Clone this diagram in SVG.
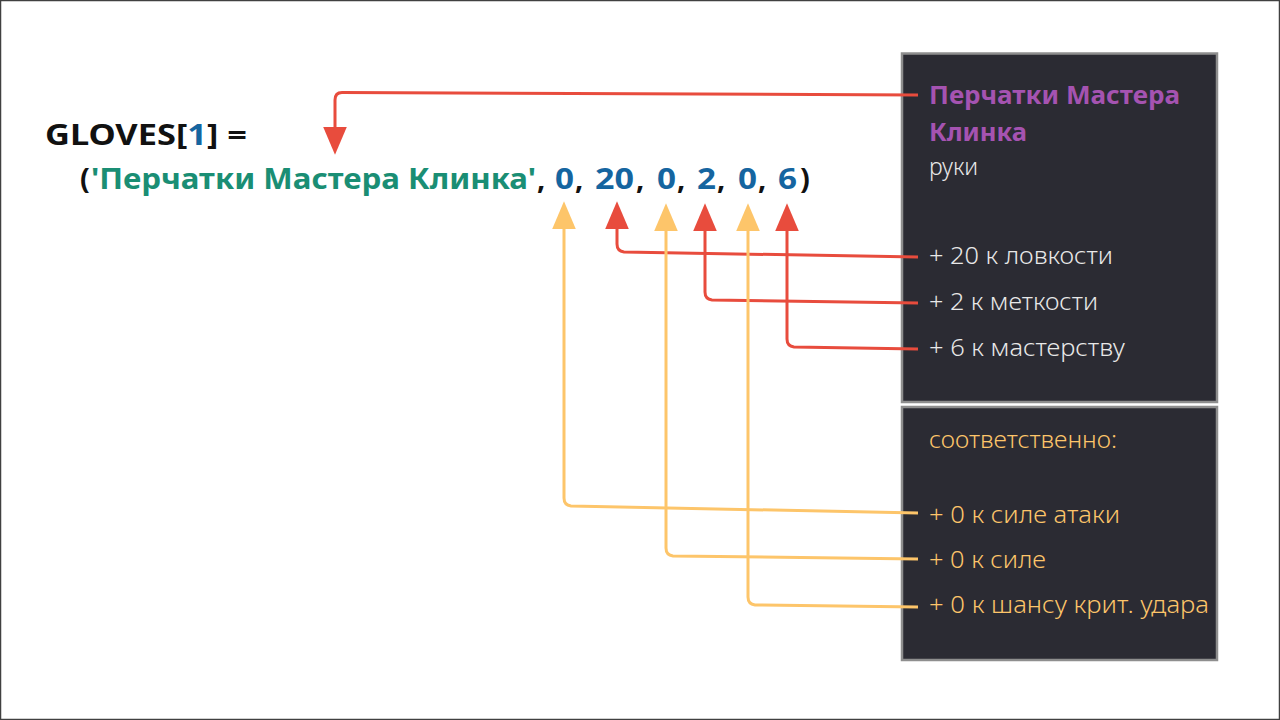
<svg xmlns="http://www.w3.org/2000/svg" width="1280" height="720" viewBox="0 0 1280 720">
<defs>
<style>
.code{font-family:"Noto Sans","DejaVu Sans",sans-serif;font-weight:700;font-size:29px}
.blk{fill:#111111}
.grn{fill:#1a8e74}
.blu{fill:#1565a0}
.box{fill:#2b2b33;stroke:#8e8e8e;stroke-width:2.5}
.ttl{font-family:"Noto Sans","DejaVu Sans",sans-serif;font-weight:700;font-size:25px;fill:#a553b1}
.lt{font-family:"Noto Sans","DejaVu Sans",sans-serif;font-weight:300;font-size:23px}
.wh{fill:#e8e8e8}
.ye{fill:#fdc56a}
.r{fill:none;stroke:#e84c3d;stroke-width:3}
.y{fill:none;stroke:#fdc56a;stroke-width:3}
</style>
<marker id="ar" markerUnits="userSpaceOnUse" markerWidth="30" markerHeight="30" viewBox="0 -13 28 26" refX="0" refY="0" orient="auto">
<path d="M0,-11 L26,0 L0,11 Z" fill="#e84c3d"/>
</marker>
<marker id="ay" markerUnits="userSpaceOnUse" markerWidth="30" markerHeight="30" viewBox="0 -13 28 26" refX="0" refY="0" orient="auto">
<path d="M0,-11 L26,0 L0,11 Z" fill="#fdc56a"/>
</marker>
</defs>
<rect x="0.5" y="0.5" width="1279" height="719" fill="#ffffff" stroke="#404040" stroke-width="1.5"/>

<g id="code">
<text class="code blk" x="45" y="145" textLength="202" lengthAdjust="spacingAndGlyphs">GLOVES[<tspan class="blu">1</tspan>] =</text>
<text class="code blk" x="80" y="189">(</text>
<text class="code grn" x="91" y="189" textLength="445" lengthAdjust="spacingAndGlyphs">'Перчатки Мастера Клинка'</text>
<text class="code blk" x="537" y="189">,</text>
<text class="code blu" x="555" y="189" textLength="19" lengthAdjust="spacingAndGlyphs">0</text>
<text class="code blk" x="575" y="189">,</text>
<text class="code blu" x="595" y="189" textLength="39" lengthAdjust="spacingAndGlyphs">20</text>
<text class="code blk" x="636" y="189">,</text>
<text class="code blu" x="657" y="189" textLength="19" lengthAdjust="spacingAndGlyphs">0</text>
<text class="code blk" x="677" y="189">,</text>
<text class="code blu" x="697" y="189" textLength="19" lengthAdjust="spacingAndGlyphs">2</text>
<text class="code blk" x="717" y="189">,</text>
<text class="code blu" x="738" y="189" textLength="19" lengthAdjust="spacingAndGlyphs">0</text>
<text class="code blk" x="758" y="189">,</text>
<text class="code blu" x="778" y="189" textLength="19" lengthAdjust="spacingAndGlyphs">6</text>
<text class="code blk" x="800" y="189">)</text>
</g>

<g id="box-item">
<rect class="box" x="902" y="53.5" width="315" height="348.5"/>
<text class="ttl" x="929" y="104" textLength="251" lengthAdjust="spacingAndGlyphs">Перчатки Мастера</text>
<text class="ttl" x="929" y="141" textLength="98" lengthAdjust="spacingAndGlyphs">Клинка</text>
<text class="lt wh" x="929" y="175">руки</text>
<text class="lt wh" x="929" y="264" textLength="184" lengthAdjust="spacingAndGlyphs">+ 20 к ловкости</text>
<text class="lt wh" x="929" y="310" textLength="169" lengthAdjust="spacingAndGlyphs">+ 2 к меткости</text>
<text class="lt wh" x="929" y="356" textLength="196" lengthAdjust="spacingAndGlyphs">+ 6 к мастерству</text>
</g>

<g id="box-zero">
<rect class="box" x="902" y="407" width="315" height="253"/>
<text class="lt ye" x="929" y="448" textLength="188" lengthAdjust="spacingAndGlyphs">соответственно:</text>
<text class="lt ye" x="929" y="523" textLength="191" lengthAdjust="spacingAndGlyphs">+ 0 к силе атаки</text>
<text class="lt ye" x="929" y="568" textLength="117" lengthAdjust="spacingAndGlyphs">+ 0 к силе</text>
<text class="lt ye" x="929" y="613" textLength="280" lengthAdjust="spacingAndGlyphs">+ 0 к шансу крит. удара</text>
</g>

<g id="connectors">
<path class="r" d="M918,95 L342,92.5 Q335,92.5 335,100 L335,127" marker-end="url(#ar)"/>
<path class="r" d="M918,257 L624,252 Q617,251 617,244 L617,229" marker-end="url(#ar)"/>
<path class="r" d="M918,303 L712,300 Q705,299 705,292 L705,231" marker-end="url(#ar)"/>
<path class="r" d="M918,349 L794,347 Q787,346 787,339 L787,231" marker-end="url(#ar)"/>
<path class="y" d="M918,513 L571,506 Q564,505 564,498 L564,229" marker-end="url(#ay)"/>
<path class="y" d="M918,559 L673,556 Q666,555 666,548 L666,231" marker-end="url(#ay)"/>
<path class="y" d="M918,607 L755,605 Q748,604 748,597 L748,231" marker-end="url(#ay)"/>
</g>
</svg>
